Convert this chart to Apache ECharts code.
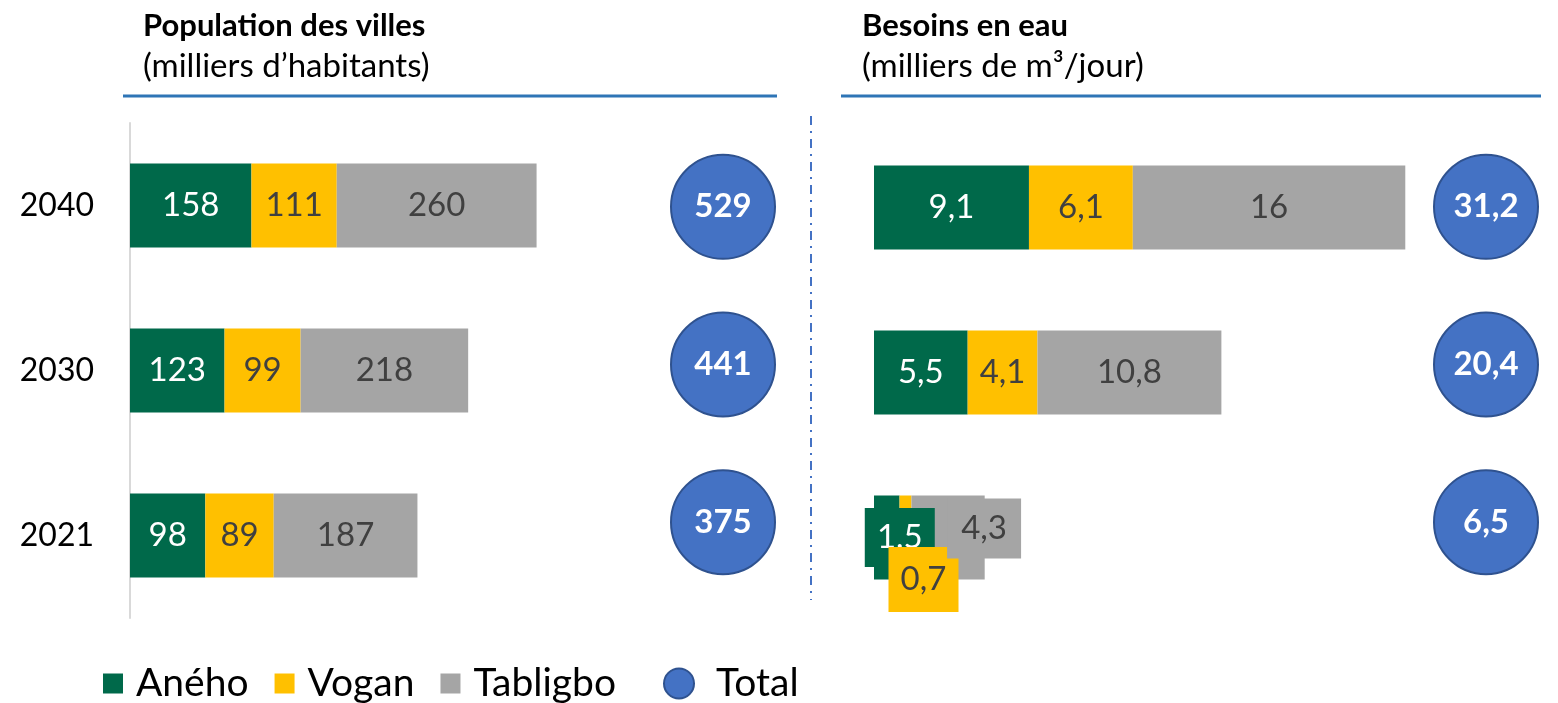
<!DOCTYPE html>
<html>
<head>
<meta charset="utf-8">
<script src="https://cdn.jsdelivr.net/npm/echarts@6/dist/echarts.min.js"></script>
<style>
  html, body { margin: 0; padding: 0; background: #fff; }
  #chart { width: 1558px; height: 703px; }
</style>
</head>
<body>
<div id="chart"></div>
<script>
// données
const annees = ['2021', '2030', '2040']
const villes = ['Aného', 'Vogan', 'Tabligbo']

const popAneho = [98, 123, 158]
const popVogan = [89, 99, 111]
const popTabligbo = [187, 218, 260]
const popTotal = [375, 441, 529]

const eauAneho = [1.5, 5.5, 9.1]
const eauVogan = [0.7, 4.1, 6.1]
const eauTabligbo = [4.3, 10.8, 16]
const eauTotal = [6.5, 20.4, 31.2]

const FONT = 'Lato'
const couleurs = ['#00694A', '#FFC000', '#A5A5A5']
const couleursTexte = ['#ffffff', '#404040', '#404040']
const BLEU = '#4472C4'

const fr = v => String(v).replace('.', ',')

const chart = echarts.init(document.getElementById('chart'))

function barSeries(name, idx, data, stack, axis, labels2021) {
  return {
    name: name,
    type: 'bar',
    stack: stack,
    xAxisIndex: axis,
    yAxisIndex: axis,
    barWidth: 84,
    itemStyle: { color: couleurs[idx] },
    label: {
      show: true,
      position: 'inside',
      fontFamily: FONT,
      fontSize: 33,
      color: couleursTexte[idx],
      formatter: p => fr(p.value)
    },
    // les étiquettes de 2021 (eau) débordent des barres trop étroites
    data: data.map((v, i) => (i === 0 && labels2021) ? { value: v, label: labels2021 } : v)
  }
}

function totalSeries(data, axis) {
  return {
    name: 'Total',
    type: 'scatter',
    xAxisIndex: axis,
    yAxisIndex: axis,
    symbolSize: 104,
    itemStyle: { color: BLEU, borderColor: '#2F528F', borderWidth: 2, opacity: 1 },
    label: {
      show: true,
      position: 'inside',
      fontFamily: FONT,
      fontWeight: 'bold',
      fontSize: 33,
      color: '#fff',
      formatter: p => fr(p.value[2])
    },
    data: data.map((v, i) => ['Total', annees[i], v])
  }
}

const boite = (w, h, off, idx) => ({
  show: true,
  width: w,
  height: h,
  lineHeight: h,
  align: 'center',
  verticalAlign: 'middle',
  backgroundColor: couleurs[idx],
  offset: off
})

const titre = (text, subtext, left) => ({
  text: text,
  subtext: subtext,
  left: left,
  top: 5,
  padding: 5,
  itemGap: 9,
  textStyle: { fontFamily: FONT, fontSize: 31, fontWeight: 'bold', color: '#000' },
  subtextStyle: { fontFamily: FONT, fontSize: 33, color: '#000' }
})

chart.setOption({
  animation: false,
  textStyle: { fontFamily: FONT },
  title: [
    titre('Population des villes', '(milliers d\u2019habitants)', 138),
    titre('Besoins en eau', '(milliers de m\u00b3/jour)', 857)
  ],
  legend: [
    {
      data: villes,
      left: 103,
      top: 664,
      padding: 0,
      icon: 'rect',
      itemWidth: 20,
      itemHeight: 20,
      itemGap: 26,
      textStyle: { fontFamily: FONT, fontSize: 39, color: '#000', padding: [0, 0, 0, 8] }
    },
    {
      data: [{ name: 'Total', icon: 'circle' }],
      left: 663,
      top: 664,
      padding: 0,
      itemWidth: 30,
      itemHeight: 38,
      symbolKeepAspect: false,
      itemStyle: { borderColor: '#2F528F', borderWidth: 2 },
      textStyle: { fontFamily: FONT, fontSize: 39, color: '#000', padding: [0, 0, 0, 17] }
    }
  ],
  grid: [
    { left: 130, top: 123, width: 538, height: 495 },
    { left: 874, top: 125, width: 596, height: 495 },
    { left: 673, top: 128, width: 100, height: 473 },
    { left: 1436, top: 128, width: 100, height: 473 }
  ],
  xAxis: [
    { type: 'value', gridIndex: 0, min: 0, max: 700, show: false },
    { type: 'value', gridIndex: 1, min: 0, max: 35, show: false },
    { type: 'category', gridIndex: 2, data: ['Total'], show: false },
    { type: 'category', gridIndex: 3, data: ['Total'], show: false }
  ],
  yAxis: [
    {
      type: 'category',
      gridIndex: 0,
      data: annees,
      axisLine: { show: true, lineStyle: { color: '#D9D9D9', width: 2 } },
      axisTick: { show: false },
      axisLabel: { fontFamily: FONT, fontSize: 32, color: '#000', margin: 36 }
    },
    { type: 'category', gridIndex: 1, data: annees, show: false },
    { type: 'category', gridIndex: 2, data: annees, show: false },
    { type: 'category', gridIndex: 3, data: annees, show: false }
  ],
  graphic: [
    {
      type: 'line',
      shape: { x1: 123, y1: 96, x2: 777, y2: 96 },
      style: { stroke: '#2E75B6', lineWidth: 3 }
    },
    {
      type: 'line',
      shape: { x1: 841, y1: 96, x2: 1541, y2: 96 },
      style: { stroke: '#2E75B6', lineWidth: 3 }
    },
    {
      type: 'line',
      shape: { x1: 811, y1: 116, x2: 811, y2: 600 },
      style: { stroke: BLEU, lineWidth: 2, lineDash: [9, 6, 2, 6] }
    }
  ],
  series: [
    barSeries(villes[0], 0, popAneho, 'pop', 0),
    barSeries(villes[1], 1, popVogan, 'pop', 0),
    barSeries(villes[2], 2, popTabligbo, 'pop', 0),
    barSeries(villes[0], 0, eauAneho, 'eau', 1, boite(70, 59, [13, 0], 0)),
    barSeries(villes[1], 1, eauVogan, 'eau', 1, boite(70, 65, [18, 42], 1)),
    barSeries(villes[2], 2, eauTabligbo, 'eau', 1, boite(74, 60, [36, -9], 2)),
    totalSeries(popTotal, 2),
    totalSeries(eauTotal, 3)
  ]
})
</script>
</body>
</html>
